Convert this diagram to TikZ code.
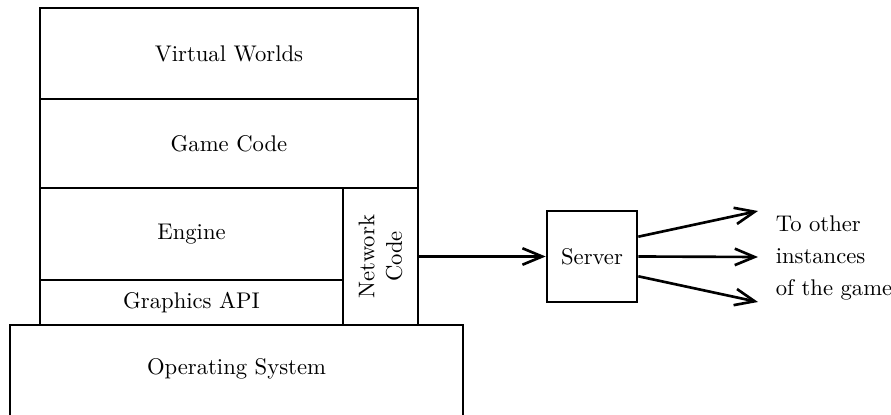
\documentclass[tikz,border=0pt]{standalone}
\usetikzlibrary{arrows.meta}
\begin{document}
\begin{tikzpicture}[x=0.4545pt,y=-0.4545pt,
  every node/.style={font=\fontsize{10.3}{12.4}\selectfont},
  layer/.style={draw,line width=1.2pt,rectangle,inner sep=0pt,
    minimum width=#1*0.4545pt},
  tall/.style={minimum height=#1*0.4545pt},
  link/.style={line width=1.2pt,-{Straight Barb[length=9pt,width=7.5pt,line width=1.2pt]}}]
\useasboundingbox (0,0) rectangle (891,415);
\clip (0,0) rectangle (891,415);
% software stack
\node[layer=378,tall=91] (vw) at (229,53.5) {Virtual Worlds};
\node[layer=378,tall=89] (gc) at (229,143.5) {Game Code};
\node[layer=303,tall=92] (eng) at (191.5,234) {Engine};
\node[layer=303,tall=45] (gapi) at (191.5,302.5) {Graphics API};
\node[layer=75,tall=137] (net) at (380.5,256.5) {};
\node[rotate=90,align=center] (nettext) at (380.5,256.5) {Network\\Code};
\node[layer=453,tall=96,text depth=5.5pt] (os) at (236.5,373) {Operating System};
% server and fan-out
\node[layer=90,tall=91] (srv) at (592,256.5) {Server};
\coordinate (t1) at (758,211);
\coordinate (t2) at (758,257);
\coordinate (t3) at (758,302);
\draw[link] (net.east) -- (srv.west);
\draw[link] ([yshift=9pt]srv.east) -- (t1);
\draw[link] (srv.east) -- (t2);
\draw[link] ([yshift=-9pt]srv.east) -- (t3);
\node[anchor=west,align=left] (others) at (768,258)
  {To other\\[2pt]instances\\[2pt]of the game};
\end{tikzpicture}
\end{document}
